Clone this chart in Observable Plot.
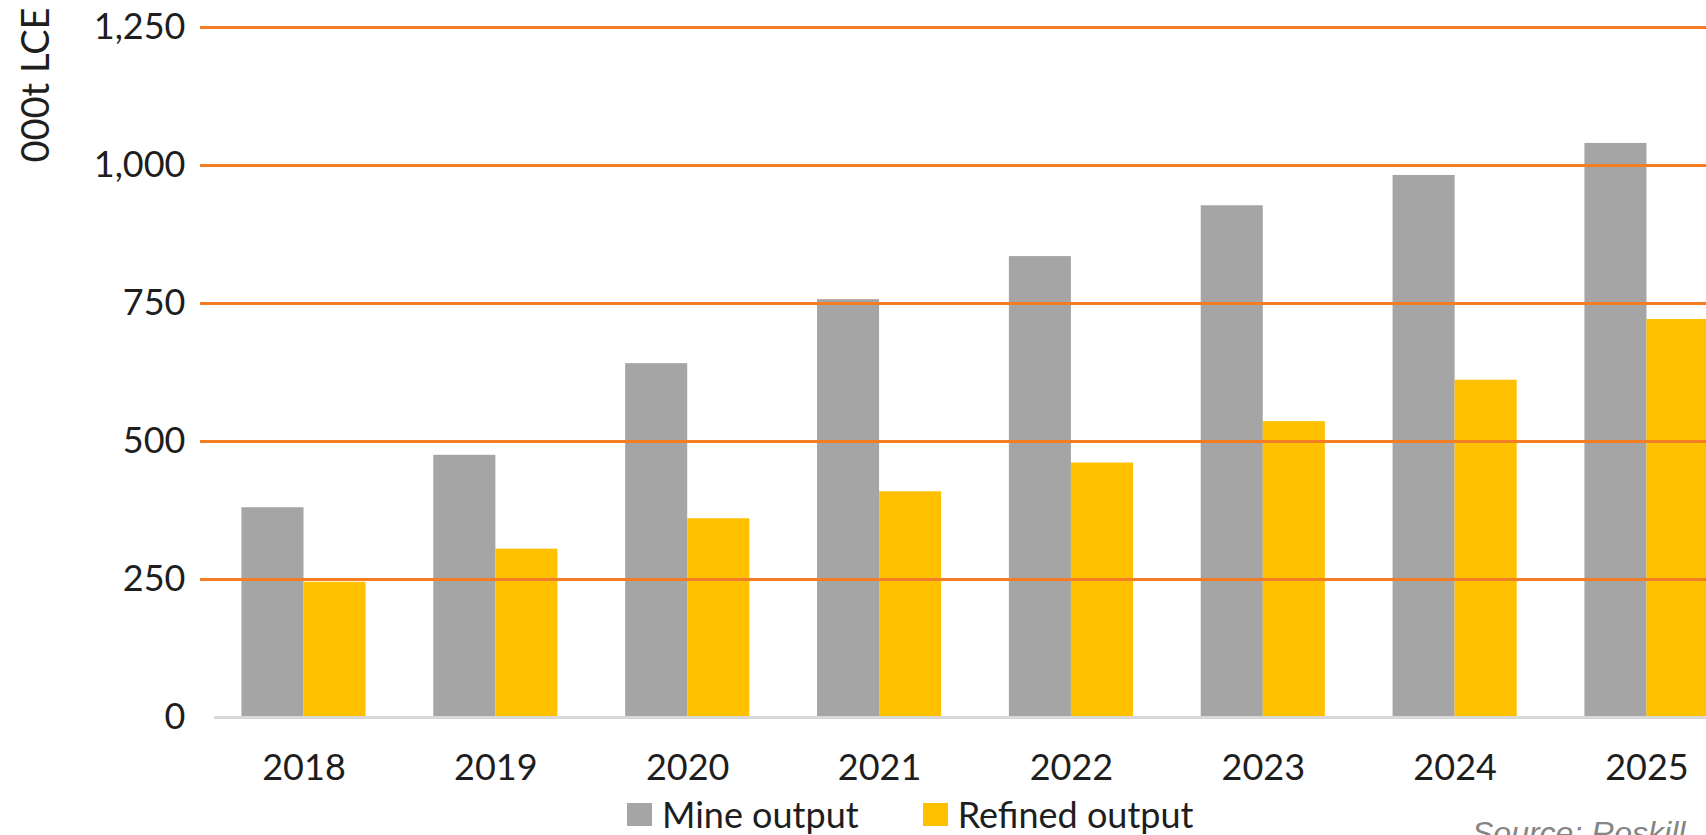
<!DOCTYPE html>
<html><head><meta charset="utf-8">
<script src="https://cdn.jsdelivr.net/npm/d3@7"></script>
<script src="https://cdn.jsdelivr.net/npm/@observablehq/plot@0.6"></script>
<style>
html,body{margin:0;padding:0;background:#fff;overflow:hidden;width:1706px;height:835px;}
#wrap{position:relative;width:1706px;height:835px;overflow:hidden;}
#chart{position:absolute;left:0;top:0;width:1750px;}
#chart svg{max-width:none !important;}
#legend{position:absolute;left:627px;top:792px;}
#source{position:absolute;left:1472px;top:817px;font-family:"Liberation Sans",Arial,sans-serif;font-style:italic;font-size:32px;line-height:32px;color:#858585;white-space:nowrap;}
.lg-swatch{margin-right:64px !important;}
.lg-swatch > svg{margin-right:10px !important;}
</style></head><body>
<div id="wrap"><div id="chart"></div><div id="legend"></div><div id="source"></div></div>
<script>
const years = ["2018","2019","2020","2021","2022","2023","2024","2025"];
const mineOutput = [380, 475, 641, 757, 835, 927, 982, 1040];
const refinedOutput = [245, 305, 360, 409, 461, 536, 611, 721];
const seriesNames = ["Mine output", "Refined output"];
const seriesColors = ["#A5A5A5", "#FFC000"];
const yTicks = [0, 250, 500, 750, 1000, 1250];
const yLabel = "000t LCE";
const sourceText = "Source: Roskill";

const mineData = years.map((year, i) => ({year, value: mineOutput[i]}));
const refinedData = years.map((year, i) => ({year, value: refinedOutput[i]}));

const W = 1750, ML = 200, PI = 0.353, PO = 0.216;
const step = (W - ML) / (years.length - PI + 2 * PO);
const half = step * (1 - PI) / 2;

const chart = Plot.plot({
  width: W,
  height: 790,
  marginLeft: ML,
  marginRight: 0,
  marginTop: 27,
  marginBottom: 73,
  style: {fontFamily: "Lato", fontSize: "36px", color: "#1e1e1e", background: "transparent", maxWidth: "none"},
  x: {domain: years, paddingInner: PI, paddingOuter: PO, round: false, tickSize: 0, tickPadding: 37, label: null},
  y: {domain: [0, 1250], ticks: yTicks, tickSize: 0, tickPadding: 15, tickFormat: d3.format(","), label: null},
  marks: [
    Plot.barY(mineData, {x: "year", y: "value", fill: seriesColors[0], insetRight: half}),
    Plot.barY(refinedData, {x: "year", y: "value", fill: seriesColors[1], insetLeft: half}),
    Plot.ruleY(yTicks.filter(d => d > 0), {stroke: "#F47D24", strokeWidth: 3}),
    Plot.ruleY([0], {stroke: "#D9D9D9", strokeWidth: 3, insetLeft: 14}),
    Plot.text([yLabel], {frameAnchor: "top-left", rotate: -90, textAnchor: "end", dx: -178, dy: -20, fontSize: 38, fill: "#1e1e1e"})
  ]
});
document.getElementById("chart").appendChild(chart);

const legend = Plot.legend({
  color: {type: "ordinal", domain: seriesNames, range: seriesColors},
  swatchWidth: 25, swatchHeight: 23,
  className: "lg",
  style: {fontFamily: "Lato", fontSize: "36px", color: "#1e1e1e", margin: "0"}
});
document.getElementById("legend").appendChild(legend);
document.getElementById("source").textContent = sourceText;
</script>
</body></html>
